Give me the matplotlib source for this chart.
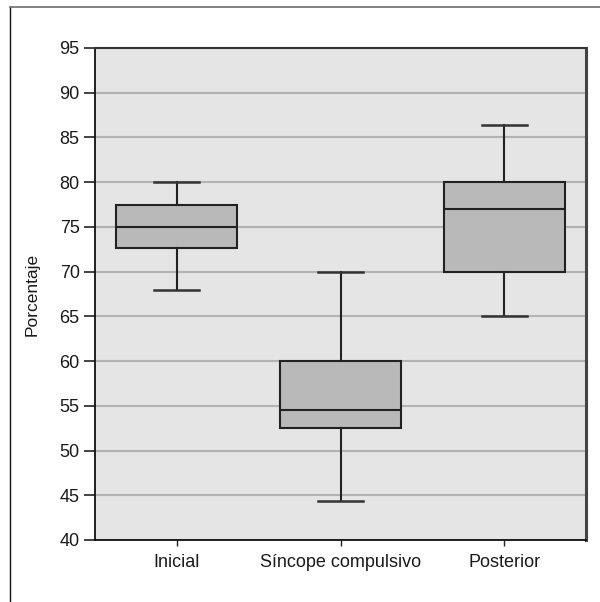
import matplotlib
matplotlib.use("Agg")
import matplotlib.pyplot as plt
from matplotlib.lines import Line2D

plt.rcParams['font.family'] = ['Liberation Sans', 'DejaVu Sans']

categories = ["Inicial", "Síncope compulsivo", "Posterior"]
whisker_low = [68.0, 44.4, 65.0]
q1 = [72.6, 52.5, 70.0]
medians = [75.0, 54.5, 77.0]
q3 = [77.5, 60.0, 80.0]
whisker_high = [80.0, 70.0, 86.4]
yticks = [40, 45, 50, 55, 60, 65, 70, 75, 80, 85, 90, 95]

fig = plt.figure(figsize=(6.0, 6.02), dpi=100)
ax = fig.add_axes([95/600, 1-540/602, 491/600, 492/602])
ax.set_facecolor('#e5e5e5')

stats = []
for i, c in enumerate(categories):
    stats.append(dict(label=c, whislo=whisker_low[i], q1=q1[i], med=medians[i],
                      q3=q3[i], whishi=whisker_high[i], fliers=[]))

ax.bxp(stats, positions=[1, 2, 3], widths=0.74, capwidths=0.275, patch_artist=True,
       showfliers=False,
       boxprops=dict(facecolor='#b9b9b9', edgecolor='#222222', linewidth=1.5),
       medianprops=dict(color='#222222', linewidth=1.5),
       whiskerprops=dict(color='#222222', linewidth=1.5),
       capprops=dict(color='#333333', linewidth=1.8),
       zorder=3)

ax.set_xlim(0.5, 3.5)
ax.set_ylim(40, 95)
ax.set_yticks(yticks)
ax.yaxis.grid(True, color='#b3b3b3', linewidth=1.5, zorder=0)
ax.set_axisbelow(True)
ax.tick_params(axis='y', length=8, width=1.2, color='#222222', labelsize=13, pad=3,
               labelcolor='#1a1a1a')
ax.tick_params(axis='x', length=4, width=1.0, color='#222222', labelsize=13, pad=6,
               labelcolor='#1a1a1a')
ax.set_ylabel("Porcentaje", fontsize=12.5, labelpad=14, color='#1a1a1a')

for s in ['left', 'bottom']:
    ax.spines[s].set_color('#111111')
    ax.spines[s].set_linewidth(1.3)
ax.spines['top'].set_color('#333333')
ax.spines['top'].set_linewidth(1.5)
ax.spines['right'].set_color('#444444')
ax.spines['right'].set_linewidth(2.2)

fig.add_artist(Line2D([10/600, 10/600], [0, 1-7/602], color='#111111', linewidth=1.0,
                      transform=fig.transFigure))
fig.add_artist(Line2D([10/600, 1], [1-7/602, 1-7/602], color='#777777', linewidth=1.3,
                      transform=fig.transFigure))

fig.savefig("out.png", dpi=100)
